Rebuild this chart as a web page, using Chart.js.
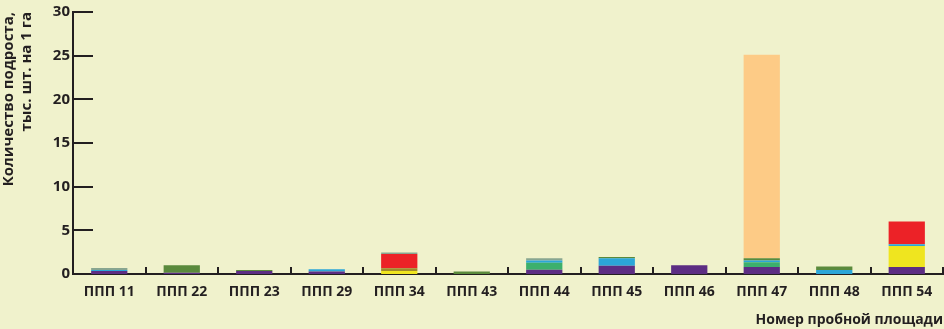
<!DOCTYPE html>
<html>
<head>
<meta charset="utf-8">
<script src="https://cdn.jsdelivr.net/npm/chart.js@4"></script>
<style>
  html, body { margin: 0; padding: 0; background: #f0f2cc; }
  #wrap { width: 944px; height: 329px; }
</style>
</head>
<body>
<div id="wrap"><canvas id="chart" width="944" height="329"></canvas></div>
<script>
// Пробные площади
const categories = ["ППП 11", "ППП 22", "ППП 23", "ППП 29", "ППП 34", "ППП 43", "ППП 44", "ППП 45", "ППП 46", "ППП 47", "ППП 48", "ППП 54"];
const yTicks = [0, 5, 10, 15, 20, 25, 30];

// Слои снизу вверх, тыс. шт. на 1 га
const purple    = [0.35, 0.15, 0.35, 0.3, 0,    0,    0.5,  0.95, 1.0, 0.8,  0,    0.8];
const yellow    = [0,    0,    0,    0,   0.35, 0,    0,    0,    0,   0,    0,    2.4];
const olive     = [0,    0,    0,    0,   0.3,  0,    0,    0,    0,   0,    0,    0];
const brightGrn = [0,    0,    0,    0,   0,    0,    0.8,  0,    0,   0.55, 0,    0];
const blue      = [0.1,  0,    0,    0.25,0,    0,    0.25, 0.85, 0,   0.2,  0.45, 0.2];
const red       = [0,    0,    0,    0,   1.65, 0,    0,    0,    0,   0,    0,    2.6];
const darkGrn   = [0,    0.85, 0.1,  0,   0,    0.3,  0,    0.15, 0,   0.25, 0.4,  0];
const grey      = [0.25, 0,    0,    0,   0.15, 0,    0.25, 0,    0,   0,    0,    0];
const peach     = [0,    0,    0,    0,   0,    0,    0,    0,    0,   23.3, 0,    0];

const ink = "#231f20";
const font = "'Open Sans', 'Noto Sans', sans-serif";

function layer(label, data, color) {
    return { label: label, data: data, backgroundColor: color, borderWidth: 0 };
}

// Короткие риски внутрь области графика
const innerTicks = {
    id: "innerTicks",
    afterDatasetsDraw(chart) {
        const ctx = chart.ctx;
        const x = chart.scales.x, y = chart.scales.y;
        ctx.save();
        ctx.strokeStyle = ink;
        ctx.lineWidth = 2;
        yTicks.forEach(v => {
            if (v === 0) return;
            const py = Math.round(y.getPixelForValue(v));
            ctx.beginPath();
            ctx.moveTo(x.left, py);
            ctx.lineTo(x.left + 20, py);
            ctx.stroke();
        });
        const step = x.getPixelForValue(1) - x.getPixelForValue(0);
        for (let i = 1; i <= categories.length; i++) {
            const px = Math.round(x.getPixelForValue(i) - step / 2);
            ctx.beginPath();
            ctx.moveTo(px, y.bottom);
            ctx.lineTo(px, y.bottom - 7);
            ctx.stroke();
        }
        ctx.restore();
    }
};

new Chart(document.getElementById("chart"), {
    type: "bar",
    data: {
        labels: categories,
        datasets: [
            layer("purple", purple, "#5c2d83"),
            layer("yellow", yellow, "#efe51f"),
            layer("olive", olive, "#a08a2a"),
            layer("bright green", brightGrn, "#3cb06c"),
            layer("blue", blue, "#2ba6d8"),
            layer("red", red, "#ec2227"),
            layer("dark green", darkGrn, "#5a8a3c"),
            layer("grey", grey, "#88a690"),
            layer("peach", peach, "#fdcb86")
        ]
    },
    options: {
        responsive: false,
        animation: false,
        layout: { padding: { top: 1, right: 1, left: 0, bottom: 0 } },
        plugins: { legend: { display: false }, tooltip: { enabled: false } },
        datasets: { bar: { categoryPercentage: 1, barPercentage: 0.5 } },
        scales: {
            x: {
                stacked: true,
                afterFit: s => { s.height = 55; },
                grid: { display: false, drawTicks: false },
                border: { display: true, color: ink, width: 2 },
                ticks: { color: ink, font: { family: font, size: 14, weight: "bold" }, padding: 10, maxRotation: 0 },
                title: {
                    display: true, text: "Номер пробной площади", align: "end",
                    color: ink, font: { family: font, size: 14, weight: "bold" }, padding: { top: 4, bottom: 1 }
                }
            },
            y: {
                stacked: true,
                min: 0, max: 30,
                afterBuildTicks: s => { s.ticks = yTicks.map(v => ({ value: v })); },
                afterFit: s => { s.width = 73; },
                grid: { display: false, drawTicks: false },
                border: { display: true, color: ink, width: 2 },
                ticks: { color: ink, font: { family: font, size: 15, weight: "bold" }, padding: 3 },
                title: {
                    display: true, text: ["Количество подроста,", "тыс. шт. на 1 га"], align: "end",
                    color: ink, font: { family: font, size: 15, weight: "bold" }, padding: { top: 0, bottom: 2 }
                }
            }
        }
    },
    plugins: [innerTicks]
});
</script>
</body>
</html>
